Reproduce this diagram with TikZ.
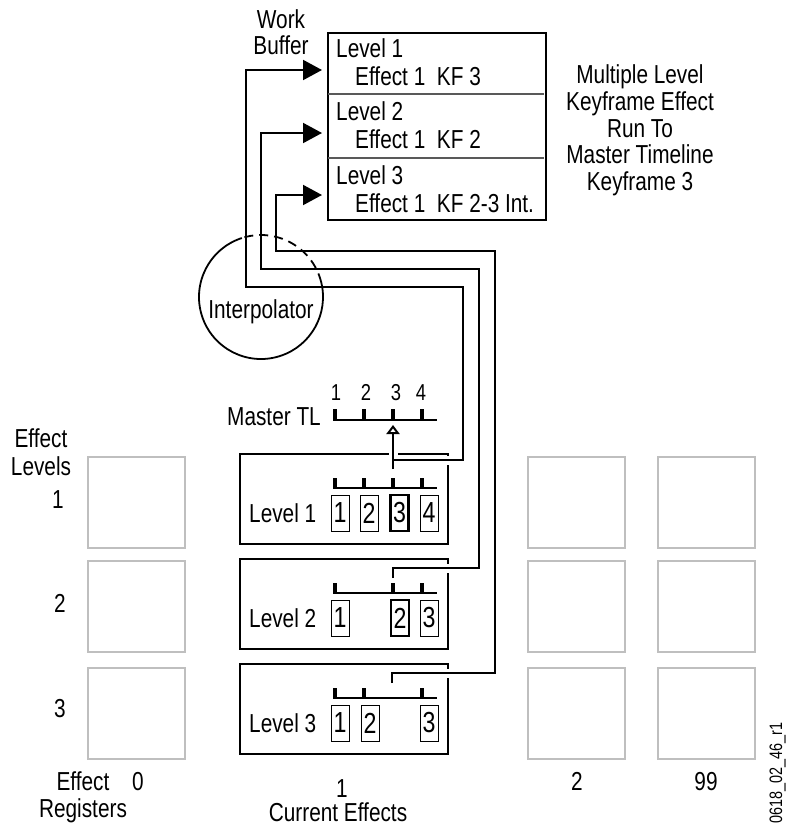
\documentclass[tikz,border=0pt]{standalone}
\usepackage{fontspec}
\setmainfont{Liberation Sans}[FakeStretch=0.8]
\usetikzlibrary{arrows.meta}
\begin{document}
\begin{tikzpicture}[x=1pt,y=-1pt,
  txt/.style={inner sep=0pt, font=\fontsize{26}{28}\selectfont},
  smallnum/.style={inner sep=0pt, font=\fontsize{23}{24}\selectfont},
  idtxt/.style={inner sep=0pt, font=\fontsize{18}{19}\selectfont},
  reg/.style={draw=black!25, line width=2pt, minimum width=97pt, minimum height=91pt, anchor=north west, inner sep=0pt},
  lvl/.style={draw=black, line width=2pt, minimum width=208pt, minimum height=90pt, anchor=north west, inner sep=0pt},
  nb/.style={draw, line width=1pt, minimum width=18pt, minimum height=36pt, inner sep=0pt, font=\fontsize{29}{30}\selectfont},
  nbsel/.style={nb, line width=2.2pt},
  conn/.style={line width=2pt, line join=miter},
  knock/.style={draw=white, line width=9pt},
  tline/.style={line width=2.5pt},
  tick/.style={line width=3.5pt},
  tickfirst/.style={line width=4.5pt},
  wbarrow/.style={-{Triangle[length=19pt,width=20pt]}},
  tlarrow/.style={-{Triangle[open,length=9pt,width=13pt,fill=white]}},
  divider/.style={draw=black!65, line width=1.3pt},
  circ/.style={line width=1.8pt},
]
\useasboundingbox (0,0) rectangle (786,825);

% ---------- Effect register grid (grey) ----------
\foreach \col/\x in {0/87, 2/527, 3/657}{
  \node[reg] (r\col a) at (\x,456) {};
  \node[reg] (r\col b) at (\x,560) {};
  \node[reg] (r\col c) at (\x,667) {};
}

% ---------- Current effect level boxes ----------
\node[lvl] (lv1) at (239,453) {};
\node[lvl] (lv2) at (239,558) {};
\node[lvl] (lv3) at (239,663) {};

\node[txt, anchor=base west] (lv1t) at (249,522) {Level 1};
\node[txt, anchor=base west] (lv2t) at (249,627) {Level 2};
\node[txt, anchor=base west] (lv3t) at (249,732) {Level 3};

% timelines
\draw[tline] (333,488) -- (437,488);
\draw[tickfirst] (335,478) -- (335,488);
\foreach \x in {364,393,422} \draw[tick] (\x,478) -- (\x,488);

\draw[tline] (333,593) -- (437,593);
\draw[tickfirst] (335,583) -- (335,593);
\foreach \x in {393,422} \draw[tick] (\x,583) -- (\x,593);

\draw[tline] (333,698) -- (437,698);
\draw[tickfirst] (335,688) -- (335,698);
\foreach \x in {364,422} \draw[tick] (\x,688) -- (\x,698);

% keyframe number boxes
\node[nb] (k11) at (340,513) {1};
\node[nb] (k12) at (369,513) {2};
\node[nbsel] (k13) at (399.5,513) {3};
\node[nb] (k14) at (429,513) {4};

\node[nb] (k21) at (340,618) {1};
\node[nbsel] (k22) at (400,618) {2};
\node[nb] (k23) at (429,618) {3};

\node[nb] (k31) at (340,723) {1};
\node[nb] (k32) at (370,723) {2};
\node[nb] (k33) at (429,723) {3};

% ---------- Master timeline ----------
\node[txt, anchor=base east] (mtl) at (321,425) {Master TL};
\draw[tline] (333,420) -- (437,420);
\draw[tickfirst] (335,409) -- (335,420);
\foreach \x in {364,393,422} \draw[tick] (\x,409) -- (\x,420);
\node[smallnum, anchor=base] (m1) at (336,400) {1};
\node[smallnum, anchor=base] (m2) at (366,400) {2};
\node[smallnum, anchor=base] (m3) at (396,400) {3};
\node[smallnum, anchor=base] (m4) at (421,400) {4};
\coordinate (mt3) at (393,425);

% ---------- Work buffer ----------
\node[draw, line width=2pt, minimum width=218pt, minimum height=187pt, anchor=north west, inner sep=0pt] (wb) at (327,32) {};
\draw[divider] (328,94) -- (544,94);
\draw[divider] (328,158) -- (544,158);
\node[txt, anchor=base] (wbl1) at (281,28) {Work};
\node[txt, anchor=base] (wbl2) at (281,54) {Buffer};

\node[txt, anchor=base west] (w1a) at (336,57) {Level 1};
\node[txt, anchor=base west] (w1b) at (355,85) {Effect 1~~KF 3};
\node[txt, anchor=base west] (w2a) at (336,120) {Level 2};
\node[txt, anchor=base west] (w2b) at (355,148) {Effect 1~~KF 2};
\node[txt, anchor=base west] (w3a) at (336,184) {Level 3};
\node[txt, anchor=base west] (w3b) at (355,212) {Effect 1~~KF 2-3 Int.};

% ---------- Connector coordinates ----------
\coordinate (c1a) at (393,469);
\coordinate (c1b) at (393,460);
\coordinate (c1c) at (463,460);
\coordinate (c1d) at (463,287);
\coordinate (c1e) at (246,287);
\coordinate (c1f) at (246,70);
\coordinate (c1g) at (322,70);

\coordinate (c2a) at (393,578);
\coordinate (c2b) at (393,568);
\coordinate (c2c) at (479,568);
\coordinate (c2d) at (479,269);
\coordinate (c2e) at (261,269);
\coordinate (c2f) at (261,133);
\coordinate (c2g) at (322,133);

\coordinate (c3a) at (392,683);
\coordinate (c3b) at (392,673);
\coordinate (c3c) at (495,673);
\coordinate (c3d) at (495,251);
\coordinate (c3e) at (276,251);
\coordinate (c3f) at (276,195);
\coordinate (c3g) at (322,195);

% knock-out pass (gaps in box edges where lines cross)
\draw[knock] (c1a) -- (mt3);
\draw[knock] (c1b) -- (c1c) -- (c1d);
\draw[knock] (c2b) -- (c2c) -- (c2d);
\draw[knock] (c3b) -- (c3c) -- (c3d);

% connectors
\draw[conn, tlarrow] (c1a) -- (mt3);
\draw[conn, wbarrow] (c1b) -- (c1c) -- (c1d) -- (c1e) -- (c1f) -- (c1g);
\draw[conn, wbarrow] (c2a) -- (c2b) -- (c2c) -- (c2d) -- (c2e) -- (c2f) -- (c2g);
\draw[conn, wbarrow] (c3a) -- (c3b) -- (c3c) -- (c3d) -- (c3e) -- (c3f) -- (c3g);

% ---------- Interpolator ----------
\coordinate (ic) at (261,297);
\draw[circ, dash pattern=on 9pt off 6pt] ([shift={(-14:62)}]ic) arc[start angle=-14, end angle=-108, radius=62];
\draw[circ] ([shift={(-108:62)}]ic) arc[start angle=-108, end angle=-374, radius=62];
\node[txt, anchor=base] (interp) at (261,318) {Interpolator};

% ---------- Right description ----------
\node[txt, anchor=base] (d1) at (640,83) {Multiple Level};
\node[txt, anchor=base] (d2) at (640,110) {Keyframe Effect};
\node[txt, anchor=base] (d3) at (640,137) {Run To};
\node[txt, anchor=base] (d4) at (640,163) {Master Timeline};
\node[txt, anchor=base] (d5) at (640,190) {Keyframe 3};

% ---------- Labels ----------
\node[txt, anchor=base] (el1) at (41,447) {Effect};
\node[txt, anchor=base] (el2) at (41,475) {Levels};
\node[txt, anchor=base] (n1) at (58,508) {1};
\node[txt, anchor=base] (n2) at (60,612) {2};
\node[txt, anchor=base] (n3) at (60,717) {3};

\node[txt, anchor=base] (er1) at (83,790) {Effect};
\node[txt, anchor=base] (er2) at (83,817) {Registers};
\node[txt, anchor=base] (c0) at (138,790) {0};
\node[txt, anchor=base] (c1) at (342,797) {1};
\node[txt, anchor=base] (ce) at (338,821) {Current Effects};
\node[txt, anchor=base] (c2) at (577,790) {2};
\node[txt, anchor=base] (c99) at (706,790) {99};

\node[idtxt, rotate=90, anchor=base west] (fid) at (782,824) {0618\_02\_46\_r1};
\end{tikzpicture}
\end{document}
